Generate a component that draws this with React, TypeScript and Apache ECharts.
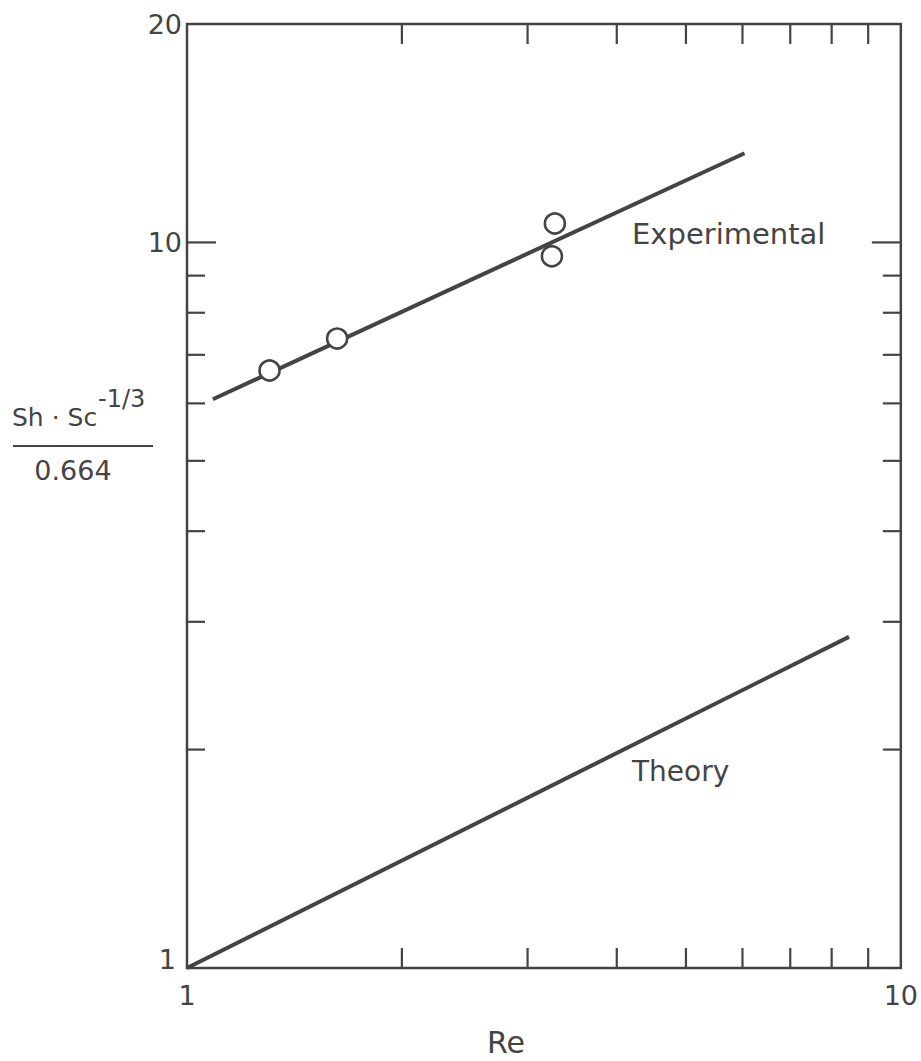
import React, { useEffect, useRef } from "react";
import * as echarts from "echarts";

// ---- data ----
const expLineRe = [1.087, 6.04];
const expLineValues = [6.08, 13.27];
const theoryRe = [1, 8.46];
const theoryValues = [1, 2.86];
const measuredRe = [1.305, 1.623, 3.245, 3.276];
const measuredValues = [6.66, 7.37, 9.57, 10.62];
const xTickValues = [2, 3, 4, 5, 6, 7, 8, 9];
const yMinorTickValues = [2, 3, 4, 5, 6, 7, 8, 9];
const yMajorTickValues = [10];
const xLabels = [1, 10];
const yLabels = [1, 10, 20];

const INK = "#444";
const FONT = "DejaVu Sans";

export default function App() {
  const ref = useRef<HTMLDivElement | null>(null);

  useEffect(() => {
    if (!ref.current) return;
    const chart = echarts.init(ref.current, undefined, { renderer: "svg" });

    const xMin = xLabels[0];
    const xMax = xLabels[xLabels.length - 1];
    const yMin = yLabels[0];
    const yMax = yLabels[yLabels.length - 1];

    // side: 0 bottom, 1 top, 2 left, 3 right
    const tickData: number[][] = [
      ...xTickValues.map((v) => [v, yMin, 0]),
      ...xTickValues.map((v) => [v, yMax, 1]),
      ...yMinorTickValues.map((v) => [xMin, v, 2]),
      ...yMinorTickValues.map((v) => [xMax, v, 3]),
      ...yMajorTickValues.map((v) => [xMin, v, 2]),
      ...yMajorTickValues.map((v) => [xMax, v, 3]),
    ];

    const round = (v: number) => Math.round(v);

    const option: any = {
      animation: false,
      grid: {
        show: true,
        left: 187,
        right: 16,
        top: 24,
        bottom: 93,
        borderColor: INK,
        borderWidth: 2.5,
        backgroundColor: "transparent",
      },
      xAxis: {
        type: "log",
        logBase: 10,
        min: xMin,
        max: xMax,
        axisLine: { show: false },
        axisTick: { show: false },
        splitLine: { show: false },
        axisLabel: {
          show: true,
          margin: 14,
          fontFamily: FONT,
          fontSize: 27,
          color: INK,
          showMinLabel: true,
          showMaxLabel: true,
          formatter: (v: number) =>
            xLabels.includes(round(v)) ? String(round(v)) : "",
        },
      },
      yAxis: {
        type: "log",
        logBase: 10,
        min: yMin,
        max: yMax,
        axisLine: { show: false },
        axisTick: { show: false },
        splitLine: { show: false },
        axisLabel: {
          show: true,
          margin: 5,
          fontFamily: FONT,
          fontSize: 27,
          color: INK,
          showMinLabel: true,
          showMaxLabel: true,
          formatter: (v: number) => {
            const r = round(v);
            if (!yLabels.includes(r)) return "";
            return r === yMin ? "{low|" + r + "}" : String(r);
          },
          rich: {
            low: {
              fontFamily: FONT,
              fontSize: 27,
              color: INK,
              padding: [0, 6, 18, 0],
            },
          },
        },
      },
      graphic: [
        {
          type: "text",
          left: 12,
          top: 420 - 15,
          style: {
            text: "Sh · Sc",
            font: `25px "${FONT}"`,
            fill: INK,
          },
        },
        {
          type: "text",
          left: 98,
          top: 401 - 14,
          style: {
            text: "-1/3",
            font: `24px "${FONT}"`,
            fill: INK,
          },
        },
        {
          type: "line",
          shape: { x1: 13, y1: 446, x2: 153, y2: 446 },
          style: { stroke: INK, lineWidth: 2 },
        },
        {
          type: "text",
          x: 73,
          y: 470,
          style: {
            text: "0.664",
            font: `27px "${FONT}"`,
            fill: INK,
            align: "center",
            verticalAlign: "middle",
          },
        },
        {
          type: "text",
          x: 506,
          y: 1042,
          style: {
            text: "Re",
            font: `30px "${FONT}"`,
            fill: INK,
            align: "center",
            verticalAlign: "middle",
          },
        },
        {
          type: "text",
          x: 632,
          y: 234,
          style: {
            text: "Experimental",
            font: `29px "${FONT}"`,
            fill: INK,
            align: "left",
            verticalAlign: "middle",
          },
        },
        {
          type: "text",
          x: 632,
          y: 771,
          style: {
            text: "Theory",
            font: `28px "${FONT}"`,
            fill: INK,
            align: "left",
            verticalAlign: "middle",
          },
        },
      ],
      series: [
        {
          type: "custom",
          name: "ticks",
          coordinateSystem: "cartesian2d",
          data: tickData,
          silent: true,
          z: 5,
          renderItem: (params: any, api: any) => {
            const x = api.value(0);
            const y = api.value(1);
            const side = api.value(2);
            const p = api.coord([x, y]);
            const major = (side === 2 || side === 3) && yMajorTickValues.includes(y);
            const len = side <= 1 ? 20 : major ? 29 : 18;
            let x2 = p[0];
            let y2 = p[1];
            if (side === 0) y2 = p[1] - len;
            if (side === 1) y2 = p[1] + len;
            if (side === 2) x2 = p[0] + len;
            if (side === 3) x2 = p[0] - len;
            return {
              type: "line",
              shape: { x1: p[0], y1: p[1], x2, y2 },
              style: { stroke: INK, lineWidth: 2.2 },
            };
          },
        },
        {
          type: "line",
          name: "Experimental",
          data: expLineRe.map((x, i) => [x, expLineValues[i]]),
          symbol: "none",
          lineStyle: { color: INK, width: 4 },
          z: 3,
        },
        {
          type: "line",
          name: "Theory",
          data: theoryRe.map((x, i) => [x, theoryValues[i]]),
          symbol: "none",
          lineStyle: { color: INK, width: 4 },
          z: 3,
        },
        {
          type: "scatter",
          name: "Measured",
          data: measuredRe.map((x, i) => [x, measuredValues[i]]),
          symbol: "circle",
          symbolSize: 20,
          itemStyle: {
            color: "#fff",
            borderColor: INK,
            borderWidth: 2.6,
            opacity: 1,
          },
          z: 6,
        },
      ],
    };

    chart.setOption(option);
    return () => chart.dispose();
  }, []);

  return (
    <div
      ref={ref}
      style={{ position: "absolute", left: 0, top: 0, width: 921, height: 1061 }}
    />
  );
}
